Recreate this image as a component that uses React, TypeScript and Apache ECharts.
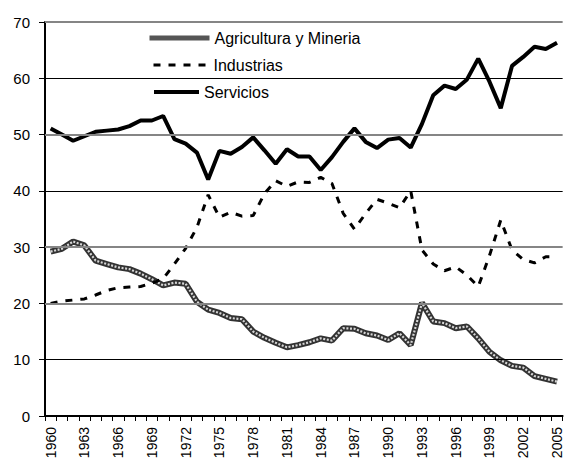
import React, { useEffect, useRef } from "react";
import * as echarts from "echarts";

const years: string[] = [];
for (let y = 1960; y <= 2005; y++) years.push(String(y));

const agricultura = [
  29.2, 29.7, 31.0, 30.3, 27.6, 27.0, 26.4, 26.1, 25.3, 24.3,
  23.2, 23.7, 23.5, 20.3, 18.9, 18.3, 17.4, 17.2, 15.0, 13.9,
  13.0, 12.2, 12.6, 13.1, 13.8, 13.4, 15.6, 15.5, 14.7, 14.3,
  13.5, 14.7, 12.6, 20.1, 16.8, 16.5, 15.6, 15.9, 13.8, 11.4,
  9.9, 8.9, 8.6, 7.1, 6.6, 6.1,
];

const industrias = [
  20.0, 20.4, 20.6, 20.8, 21.5, 22.3, 22.8, 22.9, 23.0, 23.6,
  24.4, 27.0, 29.8, 33.5, 39.3, 35.3, 36.2, 35.5, 35.6, 39.5,
  41.8, 40.8, 41.6, 41.5, 42.4, 41.3, 36.0, 33.2, 36.0, 38.5,
  37.8, 37.0, 40.0, 29.5, 27.0, 25.8, 26.5, 25.0, 23.0, 28.5,
  34.8, 29.5, 27.8, 27.2, 28.3, 28.3,
];

const servicios = [
  51.1, 50.0, 48.9, 49.7, 50.5, 50.7, 50.9, 51.5, 52.5, 52.5,
  53.3, 49.2, 48.4, 46.8, 42.0, 47.1, 46.6, 47.8, 49.5, 47.2,
  44.8, 47.4, 46.1, 46.1, 43.7, 46.0, 48.7, 51.1, 48.7, 47.6,
  49.1, 49.4, 47.7, 51.9, 57.0, 58.7, 58.1, 59.8, 63.5, 59.4,
  54.7, 62.2, 63.8, 65.6, 65.2, 66.3,
];

const seriesNames = ["Agricultura y Mineria", "Industrias", "Servicios"];
const grayLines = [20, 30, 50, 70];
const blackLines = [10, 40, 60];

const FONT = "'Liberation Sans', Arial, sans-serif";

export default function App() {
  const ref = useRef<HTMLDivElement>(null);

  useEffect(() => {
    document.body.style.margin = "0";
    if (!ref.current) return;
    const chart = echarts.init(ref.current, undefined, { renderer: "svg" });

    const gridMarks = [
      ...grayLines.map((v) => ({
        yAxis: v,
        lineStyle: { color: "#858585", width: 2, type: "solid" },
      })),
      ...blackLines.map((v) => ({
        yAxis: v,
        lineStyle: { color: "#000", width: 1, type: "solid" },
      })),
    ];

    const legendBase = {
      orient: "horizontal",
      itemHeight: 14,
      padding: 0,
      selectedMode: false,
      textStyle: { fontFamily: FONT, fontSize: 16, color: "#000" },
      itemStyle: { opacity: 0, borderWidth: 0 },
    };

    chart.setOption({
      animation: false,
      backgroundColor: "#fff",
      textStyle: { fontFamily: FONT },
      grid: { left: 45, right: 0, top: 22, bottom: 46, containLabel: false },
      graphic: [
        {
          type: "rect",
          z: 3,
          shape: { x: 73, y: 26, width: 371, height: 86 },
          style: { fill: "#fff" },
          silent: true,
        },
      ],
      legend: [
        {
          ...legendBase,
          left: 147,
          top: 30,
          itemWidth: 60,
          data: [seriesNames[0]],
          lineStyle: { width: 5, color: "#555", opacity: 1 },
        },
        {
          ...legendBase,
          left: 152,
          top: 57,
          itemWidth: 55,
          data: [seriesNames[1]],
          lineStyle: { width: 3, type: [7, 8], color: "#000", opacity: 1 },
        },
        {
          ...legendBase,
          left: 152,
          top: 84,
          itemWidth: 45,
          data: [seriesNames[2]],
          lineStyle: { width: 4, color: "#000", opacity: 1 },
        },
      ],
      xAxis: {
        type: "category",
        data: years,
        boundaryGap: true,
        axisLine: { show: true, lineStyle: { color: "#000", width: 2 } },
        axisTick: {
          show: true,
          interval: 0,
          length: 5,
          lineStyle: { color: "#000", width: 1 },
        },
        axisLabel: {
          interval: 2,
          rotate: 90,
          margin: 11,
          fontFamily: FONT,
          fontSize: 14,
          color: "#000",
        },
        splitLine: { show: false },
      },
      yAxis: {
        type: "value",
        min: 0,
        max: 70,
        interval: 10,
        axisLine: { show: true, lineStyle: { color: "#000", width: 2 } },
        axisTick: { show: true, length: 6, lineStyle: { color: "#000", width: 1 } },
        axisLabel: {
          margin: 15,
          fontFamily: FONT,
          fontSize: 15,
          color: "#000",
        },
        splitLine: { show: false },
      },
      series: [
        {
          name: "grid",
          type: "line",
          data: years.map(() => null),
          symbol: "none",
          silent: true,
          lineStyle: { width: 0 },
          markLine: {
            silent: true,
            symbol: ["none", "none"],
            label: { show: false },
            data: gridMarks,
          },
        },
        {
          name: seriesNames[0],
          type: "line",
          data: agricultura,
          symbol: "none",
          showSymbol: false,
          lineStyle: { color: "#333", width: 6 },
          itemStyle: { color: "#444" },
        },
        {
          name: seriesNames[0],
          type: "line",
          data: agricultura,
          symbol: "none",
          showSymbol: false,
          lineStyle: { color: "#d6d6d6", width: 2.2, type: [2, 1.6] },
          itemStyle: { color: "#444" },
        },
        {
          name: seriesNames[1],
          type: "line",
          data: industrias,
          symbol: "none",
          showSymbol: false,
          lineStyle: { color: "#000", width: 3, type: [7, 8] },
          itemStyle: { color: "#000" },
        },
        {
          name: seriesNames[2],
          type: "line",
          data: servicios,
          symbol: "none",
          showSymbol: false,
          lineStyle: { color: "#000", width: 4 },
          itemStyle: { color: "#000" },
        },
      ],
    });

    return () => chart.dispose();
  }, []);

  return <div ref={ref} style={{ width: 564, height: 462 }} />;
}
